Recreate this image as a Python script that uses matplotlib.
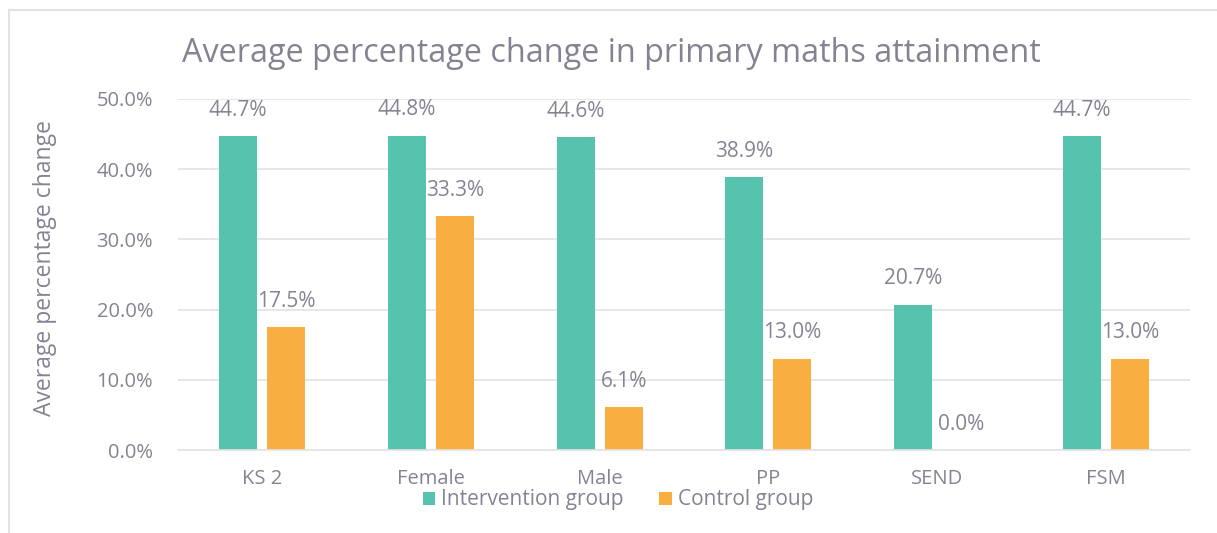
import numpy as np
import matplotlib.pyplot as plt
from matplotlib.patches import Rectangle

categories = ['KS 2', 'Female', 'Male', 'PP', 'SEND', 'FSM']
intervention = [44.7, 44.8, 44.6, 38.9, 20.7, 44.7]
control = [17.5, 33.3, 6.1, 13.0, 0.0, 13.0]

teal = '#56C3AF'
orange = '#F9AE42'
txt = '#878292'
grid = '#E3E3E3'

plt.rcParams['font.family'] = ['Open Sans', 'DejaVu Sans']

fig = plt.figure(figsize=(12.17, 5.33), dpi=100)
ax = fig.add_axes([178/1217, 1 - 450/533, (1190-178)/1217, (450-99)/533])

x = np.arange(len(categories))
w = 0.225
off = 0.143
b1 = ax.bar(x - off, intervention, w, color=teal, label='Intervention group')
b2 = ax.bar(x + off, control, w, color=orange, label='Control group')

for bars, vals in ((b1, intervention), (b2, control)):
    for b, v in zip(bars, vals):
        ax.annotate(f'{v:.1f}%', (b.get_x() + b.get_width()/2, v),
                    xytext=(0, 11), textcoords='offset points',
                    ha='center', va='bottom', fontsize=15, color=txt)

ax.set_xlim(-0.5, len(categories) - 0.5)
ax.set_ylim(0, 50)
ax.set_yticks(np.arange(0, 51, 10))
ax.set_yticklabels([f'{t:.1f}%' for t in np.arange(0, 51, 10)])
ax.set_xticks(x)
ax.set_xticklabels(categories)
ax.tick_params(length=0, labelsize=14.5, labelcolor=txt)
ax.tick_params(axis='y', pad=18)
ax.tick_params(axis='x', pad=14)
ax.yaxis.grid(True, color=grid, linewidth=1.2)
ax.set_axisbelow(True)
for s in ['top', 'right', 'left']:
    ax.spines[s].set_visible(False)
ax.spines['bottom'].set_color(grid)
ax.spines['bottom'].set_linewidth(1.2)

ax.set_ylabel('Average percentage change', fontsize=16.5, color=txt,
              va='center')
ax.yaxis.set_label_coords((45 - 178) / 1012, (450 - 268) / 351)
fig.text(182/1217, 1 - 53/533, 'Average percentage change in primary maths attainment',
         fontsize=23.3, color=txt, va='center', ha='left')

leg = ax.legend(loc='center', bbox_to_anchor=(618/1217, 1 - 500/533),
                bbox_transform=fig.transFigure, ncol=2, frameon=False,
                fontsize=15, handlelength=0.6, handleheight=0.6,
                handletextpad=0.3, columnspacing=1.7, labelcolor=txt)

fig.patches.append(Rectangle((9/1217, -0.1), 1.2, (1 - 10/533) + 0.1,
                             transform=fig.transFigure, fill=False,
                             edgecolor=grid, linewidth=1.5))

fig.savefig('out.png', dpi=100)
